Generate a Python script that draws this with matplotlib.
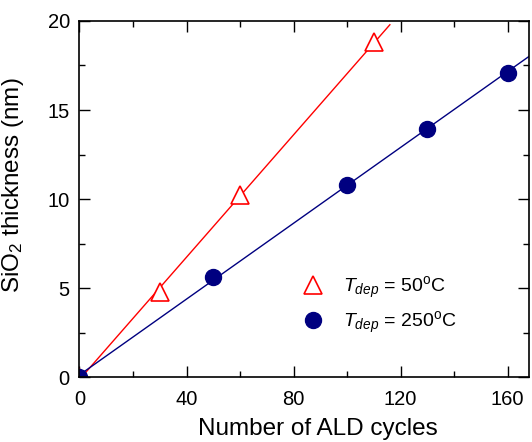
import matplotlib
matplotlib.use("Agg")
import matplotlib.pyplot as plt
import numpy as np

plt.rcParams['font.family'] = ['Liberation Sans', 'DejaVu Sans']
plt.rcParams['mathtext.fontset'] = 'custom'
plt.rcParams['mathtext.rm'] = 'Liberation Sans'
plt.rcParams['mathtext.it'] = 'Liberation Sans:italic'

# data
cycles_50 = [0, 30, 60, 110]
thick_50 = [0, 4.8, 10.2, 18.8]
cycles_250 = [0, 50, 100, 130, 160]
thick_250 = [0, 5.6, 10.8, 13.95, 17.1]

fit_range_50 = [0, 116]
fit_range_250 = [0, 172]

fig = plt.figure(figsize=(5.32, 4.42), dpi=100)
ax = fig.add_axes([0.1494, 0.147, 0.845, 0.8055])

# linear fits
p50 = np.polyfit(cycles_50, thick_50, 1)
p250 = np.polyfit(cycles_250, thick_250, 1)
xf50 = np.array(fit_range_50)
xf250 = np.array(fit_range_250)
ax.plot(xf50, np.polyval(p50, xf50), color='red', lw=1)
ax.plot(xf250, np.polyval(p250, xf250), color='#000080', lw=1)

ax.plot(cycles_50, thick_50, linestyle='none', marker='^', ms=13,
        mfc='white', mec='red', mew=1.2,
        label=r'$T_{dep}$ = 50$^{\mathrm{o}}$C')
ax.plot(cycles_250, thick_250, linestyle='none', marker='o', ms=11.5,
        mfc='#000080', mec='#000080',
        label=r'$T_{dep}$ = 250$^{\mathrm{o}}$C')

ax.set_xlim(0, 168)
ax.set_ylim(0, 20)
ax.set_xticks([0, 40, 80, 120, 160])
ax.set_xticks(np.arange(20, 168, 40), minor=True)
ax.set_yticks([0, 5, 10, 15, 20])
ax.set_yticks([2.5, 7.5, 12.5, 17.5], minor=True)
ax.tick_params(which='both', direction='in', top=True, right=True,
               labelsize=14.5, width=1)
ax.tick_params(which='major', length=8)
ax.tick_params(axis='x', which='major', pad=9)
ax.tick_params(axis='y', which='major', pad=7)
ax.tick_params(which='minor', length=4)
for s in ax.spines.values():
    s.set_linewidth(1.2)

ax.set_xlabel('Number of ALD cycles', fontsize=17.5, labelpad=10)
ax.set_ylabel(r'SiO$_2$ thickness (nm)', fontsize=17.5, labelpad=6)
ax.xaxis.set_label_coords(0.53, -0.115, transform=ax.transAxes)
ax.yaxis.set_label_coords(-0.12, 0.54, transform=ax.transAxes)

ax.legend(loc='upper left', bbox_to_anchor=(0.46, 0.31), frameon=False,
          fontsize=14, handletextpad=0.5, labelspacing=0.45, borderaxespad=0)

fig.savefig('out.png', dpi=100)
